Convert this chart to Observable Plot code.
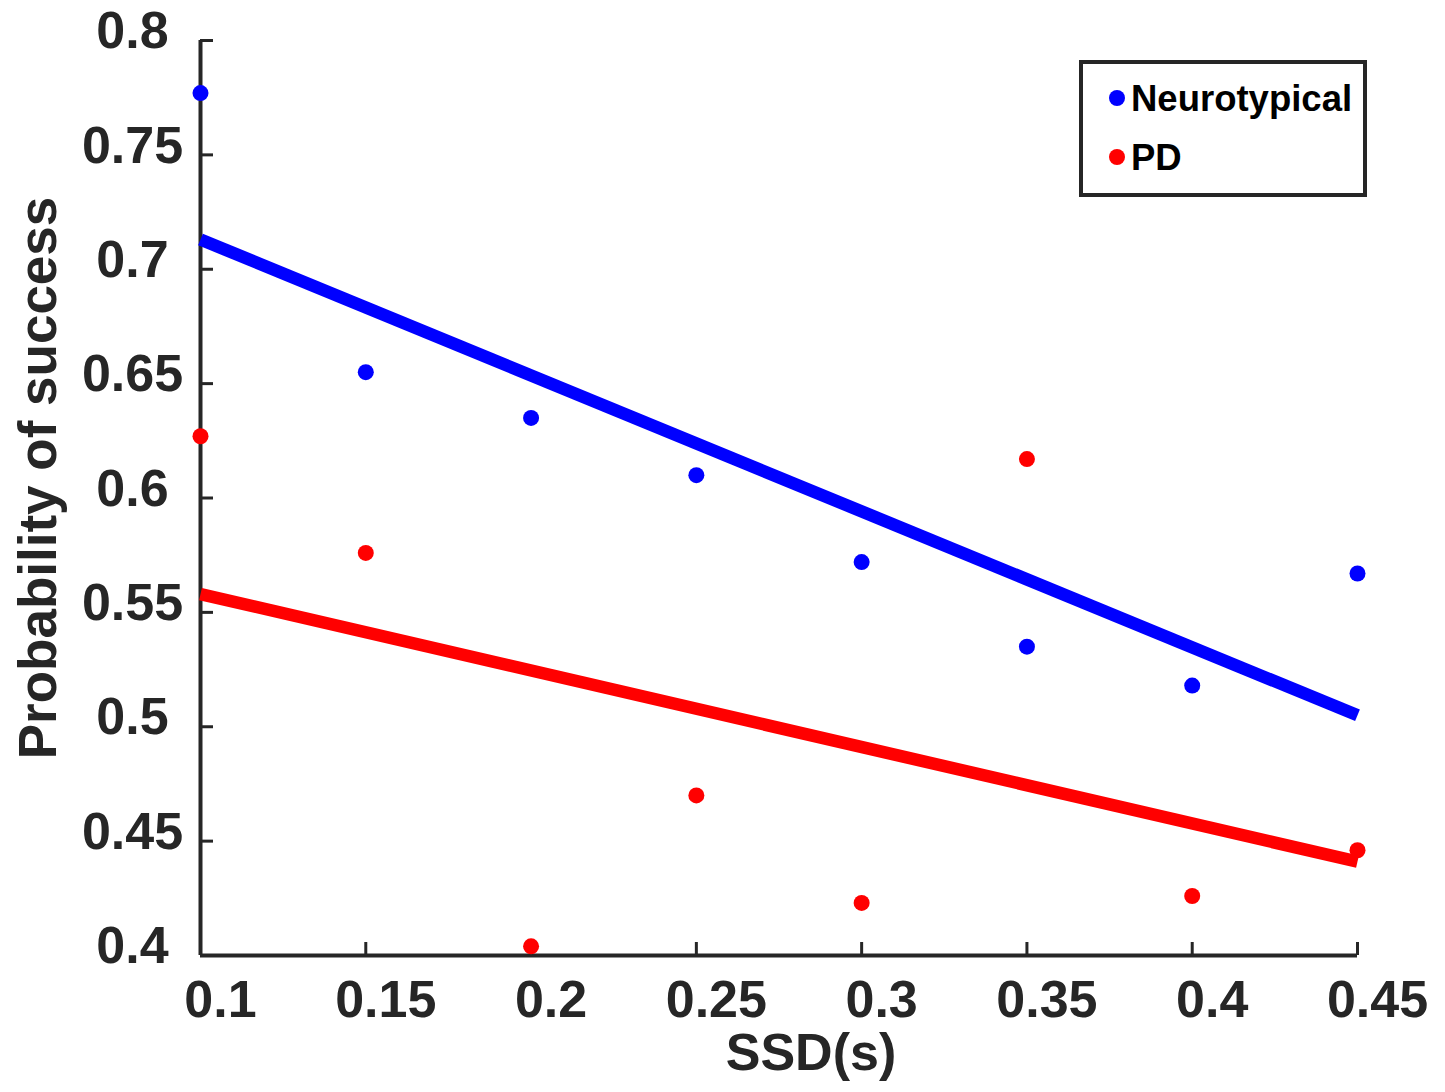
<!DOCTYPE html>
<html>
<head>
<meta charset="utf-8">
<script src="https://cdn.jsdelivr.net/npm/d3@7"></script>
<script src="https://cdn.jsdelivr.net/npm/@observablehq/plot@0.6"></script>
<style>
  body { margin: 0; background: #fff; }
  #wrap { position: relative; width: 1445px; height: 1092px; }
</style>
</head>
<body>
<div id="wrap"></div>
<script>
const ssd = [0.1, 0.15, 0.2, 0.25, 0.3, 0.35, 0.4, 0.45];
const neurotypical = [0.777, 0.655, 0.635, 0.610, 0.572, 0.535, 0.518, 0.567];
const pd = [0.627, 0.576, 0.404, 0.470, 0.423, 0.617, 0.426, 0.446];
const fitX = [0.1, 0.45];
const fitNeurotypical = [0.713, 0.505];
const fitPD = [0.558, 0.441];
const xTicks = [0.1, 0.15, 0.2, 0.25, 0.3, 0.35, 0.4, 0.45];
const yTicks = [0.4, 0.45, 0.5, 0.55, 0.6, 0.65, 0.7, 0.75, 0.8];
const seriesNames = ["Neurotypical", "PD"];
const seriesColors = ["#0000ff", "#ff0000"];
const xTitle = "SSD(s)";
const yTitle = "Probability of success";

const pts = (ys) => ssd.map((x, i) => ({x, y: ys[i]}));
const fit = (ys) => fitX.map((x, i) => ({x, y: ys[i]}));
const axisColor = "#262626";
const fmt = d => String(d);
const font = "Liberation Sans, Arial, Helvetica, sans-serif";

const chart = Plot.plot({
  width: 1445,
  height: 1092,
  marginLeft: 200,
  marginRight: 88,
  marginTop: 40,
  marginBottom: 137,
  style: {fontFamily: font, background: "#fff", overflow: "visible"},
  x: {domain: [0.1, 0.45]},
  y: {domain: [0.4, 0.8]},
  marks: [
    Plot.ruleX([0.1], {stroke: axisColor, strokeWidth: 4}),
    Plot.ruleY([0.4], {stroke: axisColor, strokeWidth: 4}),
    Plot.axisX(xTicks, {tickSize: 13, dy: -13, stroke: axisColor, strokeWidth: 3, tickFormat: () => "", label: null}),
    Plot.axisY(yTicks, {tickSize: 13, dx: 13, stroke: axisColor, strokeWidth: 3, tickFormat: () => "", label: null}),
    Plot.axisX(xTicks, {tickSize: 0, tickPadding: 25, dx: 20, tickFormat: fmt, fontSize: 52, fontWeight: "bold", fill: axisColor, label: null}),
    Plot.axisY(yTicks, {tickSize: 0, tickPadding: 68, textAnchor: "middle", tickFormat: fmt, fontSize: 52, fontWeight: "bold", fill: axisColor, dy: -9, label: null}),
    Plot.line(fit(fitNeurotypical), {x: "x", y: "y", stroke: seriesColors[0], strokeWidth: 12.5, strokeLinecap: "butt"}),
    Plot.line(fit(fitPD), {x: "x", y: "y", stroke: seriesColors[1], strokeWidth: 12.5, strokeLinecap: "butt"}),
    Plot.dot(pts(neurotypical), {x: "x", y: "y", r: 8, fill: seriesColors[0]}),
    Plot.dot(pts(pd), {x: "x", y: "y", r: 8, fill: seriesColors[1]})
  ]
});

document.getElementById("wrap").appendChild(chart);

const svg = d3.select(chart);
// axis titles
svg.append("text")
  .attr("x", 811).attr("y", 1070)
  .attr("text-anchor", "middle")
  .attr("font-family", font).attr("font-size", 52).attr("font-weight", "bold")
  .attr("fill", axisColor)
  .text(xTitle);
svg.append("text")
  .attr("transform", "translate(56,478) rotate(-90)")
  .attr("text-anchor", "middle")
  .attr("font-family", font).attr("font-size", 53).attr("font-weight", "bold")
  .attr("fill", axisColor)
  .text(yTitle);

// legend
const lg = svg.append("g");
lg.append("rect")
  .attr("x", 1081).attr("y", 62).attr("width", 284).attr("height", 133)
  .attr("fill", "#fff").attr("stroke", axisColor).attr("stroke-width", 4);
const rowY = [98, 157];
seriesNames.forEach((name, i) => {
  lg.append("circle").attr("cx", 1117).attr("cy", rowY[i]).attr("r", 8).attr("fill", seriesColors[i]);
  lg.append("text")
    .attr("x", 1131).attr("y", rowY[i] + 13)
    .attr("text-anchor", "start")
    .attr("font-family", font).attr("font-size", 36.5).attr("font-weight", "bold")
    .attr("fill", "#000")
    .text(name);
});
</script>
</body>
</html>
